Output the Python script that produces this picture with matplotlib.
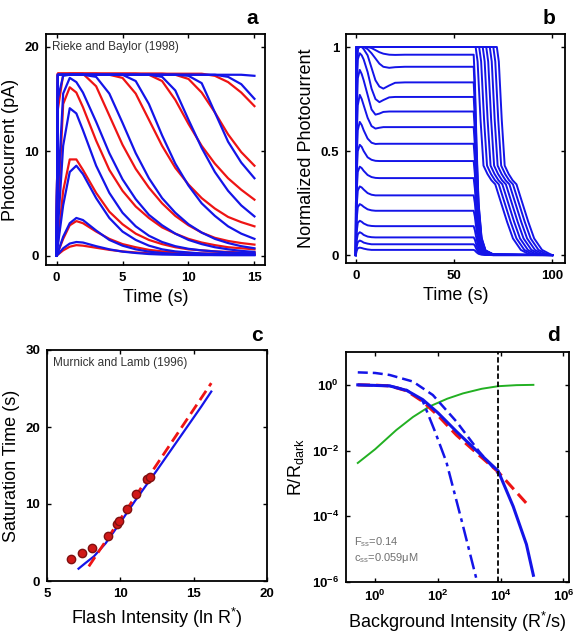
import matplotlib
matplotlib.use("Agg")
import matplotlib.pyplot as plt

plt.rcParams['font.family'] = ['Liberation Sans', 'DejaVu Sans']
plt.rcParams['mathtext.fontset'] = 'custom'
plt.rcParams['mathtext.rm'] = 'Liberation Sans'

BLUE = '#1414e8'
RED = '#ee1414'
GREEN = '#22b022'

# ---- panel a : flash responses (pA) ----
ta = [0, 0.1, 0.5, 1, 1.5, 2, 3, 4, 5, 6, 7, 8, 9, 10, 11, 12, 13, 14, 15]
a_model = [
    [0, 17.3, 17.3, 17.3, 17.3, 17.3, 17.3, 17.3, 17.3, 17.3, 17.3, 17.3, 17.3, 17.3, 17.3, 17.3, 17.3, 17.3, 17.2],
    [0, 17.3, 17.3, 17.3, 17.3, 17.3, 17.3, 17.3, 17.3, 17.3, 17.3, 17.3, 17.3, 17.3, 17.3, 17.3, 17.1, 16.4, 15.0],
    [0, 17.3, 17.3, 17.3, 17.3, 17.3, 17.3, 17.3, 17.3, 17.3, 17.3, 17.3, 17.3, 17.2, 16.5, 13.7, 10.9, 8.9, 7.4],
    [0, 17.3, 17.3, 17.3, 17.3, 17.3, 17.3, 17.3, 17.3, 17.3, 17.3, 17.1, 15.8, 13.0, 10.3, 8.0, 6.2, 4.8, 3.75],
    [0, 17.3, 17.3, 17.3, 17.3, 17.3, 17.3, 17.3, 17.3, 16.7, 14.5, 11.5, 8.8, 6.7, 5.0, 3.8, 2.8, 2.1, 1.6],
    [0, 15.0, 17.2, 17.3, 17.3, 17.3, 17.1, 15.5, 12.7, 9.8, 7.4, 5.5, 4.1, 3.0, 2.2, 1.6, 1.2, 0.9, 0.7],
    [0, 6.0, 15.5, 17.0, 16.6, 15.6, 12.8, 9.8, 7.3, 5.4, 3.9, 2.9, 2.1, 1.5, 1.1, 0.8, 0.6, 0.45, 0.35],
    [0, 2.5, 10.5, 14.1, 13.6, 12.0, 8.6, 6.0, 4.1, 2.8, 1.9, 1.3, 0.9, 0.65, 0.5, 0.4, 0.3, 0.25, 0.2],
    [0, 1.0, 4.8, 8.0, 8.6, 7.8, 5.5, 3.6, 2.3, 1.5, 0.95, 0.6, 0.4, 0.3, 0.2, 0.15, 0.12, 0.1, 0.1],
    [0, 0.3, 1.8, 3.1, 3.6, 3.4, 2.4, 1.5, 0.95, 0.6, 0.38, 0.25, 0.16, 0.1, 0.08, 0.06, 0.05, 0.05, 0.05],
    [0, 0.1, 0.7, 1.15, 1.3, 1.25, 0.9, 0.6, 0.38, 0.25, 0.15, 0.1, 0.08, 0.06, 0.05, 0.05, 0.05, 0.05, 0.05],
]
a_data = [
    [0, 17.4, 17.4, 17.4, 17.4, 17.4, 17.4, 17.4, 17.4, 17.4, 17.4, 17.4, 17.4, 17.4, 17.4, 17.2, 16.6, 15.6, 14.3],
    [0, 17.4, 17.4, 17.4, 17.4, 17.4, 17.4, 17.4, 17.4, 17.4, 17.4, 17.4, 17.3, 16.9, 15.6, 13.7, 11.6, 9.9, 8.6],
    [0, 17.4, 17.4, 17.4, 17.4, 17.4, 17.4, 17.4, 17.4, 17.4, 17.3, 16.7, 14.9, 12.6, 10.5, 8.8, 7.4, 6.3, 5.35],
    [0, 17.4, 17.4, 17.4, 17.4, 17.4, 17.4, 17.3, 17.0, 15.5, 13.0, 10.5, 8.4, 6.8, 5.5, 4.5, 3.7, 3.2, 2.8],
    [0, 14.0, 17.3, 17.4, 17.4, 17.4, 16.2, 13.4, 10.6, 8.3, 6.5, 5.0, 3.8, 2.9, 2.2, 1.7, 1.4, 1.2, 1.05],
    [0, 4.0, 14.5, 16.1, 15.6, 14.2, 11.0, 8.2, 6.2, 4.7, 3.6, 2.7, 2.1, 1.6, 1.25, 1.0, 0.8, 0.7, 0.6],
    [0, 1.2, 6.2, 9.2, 9.2, 8.2, 6.0, 4.2, 3.0, 2.1, 1.5, 1.1, 0.8, 0.6, 0.5, 0.4, 0.35, 0.3, 0.3],
    [0, 0.3, 1.6, 2.9, 3.3, 3.1, 2.3, 1.6, 1.1, 0.8, 0.55, 0.4, 0.3, 0.25, 0.2, 0.2, 0.2, 0.2, 0.2],
    [0, 0.1, 0.5, 0.85, 1.0, 0.95, 0.75, 0.55, 0.4, 0.3, 0.22, 0.18, 0.15, 0.12, 0.1, 0.1, 0.1, 0.1, 0.1],
]

# ---- panel b : step responses (normalized) ----
tb_mid = [0, 0.4, 1, 2, 3, 4, 6, 8, 10, 12, 14, 17, 20, 25, 60, 60.6, 61.5, 62.5, 64, 66, 70, 100]
b_mid = [
    [0, 0.02, 0.033, 0.036, 0.034, 0.031, 0.027, 0.025, 0.025, 0.025, 0.025, 0.025, 0.025, 0.025, 0.025, 0.022, 0.013, 0.006, 0.002, 0.001, 0, 0],
    [0, 0.04, 0.062, 0.07, 0.066, 0.06, 0.055, 0.052, 0.052, 0.052, 0.052, 0.052, 0.052, 0.052, 0.052, 0.046, 0.027, 0.013, 0.005, 0.001, 0, 0],
    [0, 0.07, 0.1, 0.11, 0.105, 0.097, 0.089, 0.086, 0.085, 0.085, 0.085, 0.085, 0.085, 0.085, 0.085, 0.075, 0.045, 0.022, 0.008, 0.002, 0, 0],
    [0, 0.11, 0.155, 0.165, 0.16, 0.152, 0.143, 0.14, 0.139, 0.139, 0.139, 0.139, 0.139, 0.139, 0.139, 0.12, 0.075, 0.036, 0.012, 0.003, 0, 0],
    [0, 0.17, 0.23, 0.245, 0.24, 0.232, 0.22, 0.215, 0.213, 0.213, 0.213, 0.213, 0.213, 0.213, 0.213, 0.185, 0.115, 0.055, 0.018, 0.005, 0.001, 0],
    [0, 0.23, 0.31, 0.33, 0.325, 0.315, 0.298, 0.29, 0.287, 0.287, 0.287, 0.287, 0.287, 0.287, 0.287, 0.25, 0.155, 0.075, 0.025, 0.007, 0.001, 0],
    [0, 0.3, 0.4, 0.425, 0.418, 0.405, 0.385, 0.375, 0.371, 0.37, 0.37, 0.37, 0.37, 0.37, 0.37, 0.32, 0.2, 0.1, 0.033, 0.009, 0.001, 0],
    [0, 0.38, 0.5, 0.53, 0.52, 0.5, 0.47, 0.458, 0.453, 0.452, 0.452, 0.452, 0.452, 0.452, 0.452, 0.39, 0.245, 0.12, 0.04, 0.011, 0.002, 0],
    [0, 0.45, 0.6, 0.64, 0.625, 0.6, 0.56, 0.54, 0.534, 0.535, 0.535, 0.535, 0.535, 0.535, 0.535, 0.46, 0.29, 0.14, 0.047, 0.013, 0.002, 0],
    [0, 0.55, 0.72, 0.77, 0.75, 0.72, 0.66, 0.62, 0.608, 0.612, 0.615, 0.615, 0.615, 0.615, 0.615, 0.53, 0.33, 0.16, 0.054, 0.015, 0.002, 0],
    [0, 0.65, 0.85, 0.89, 0.87, 0.84, 0.77, 0.7, 0.675, 0.68, 0.688, 0.69, 0.69, 0.69, 0.69, 0.6, 0.37, 0.18, 0.06, 0.017, 0.002, 0],
    [0, 0.75, 0.94, 0.97, 0.96, 0.94, 0.88, 0.8, 0.75, 0.735, 0.745, 0.758, 0.76, 0.76, 0.76, 0.66, 0.41, 0.2, 0.067, 0.019, 0.003, 0],
    [0, 0.85, 0.99, 1.0, 1.0, 0.99, 0.96, 0.9, 0.84, 0.81, 0.8, 0.815, 0.828, 0.83, 0.83, 0.72, 0.45, 0.22, 0.073, 0.02, 0.003, 0],
    [0, 0.9, 1.0, 1.0, 1.0, 1.0, 0.99, 0.97, 0.945, 0.92, 0.905, 0.9, 0.903, 0.905, 0.905, 0.79, 0.49, 0.24, 0.08, 0.022, 0.003, 0],
    [0, 0.95, 1.0, 1.0, 1.0, 1.0, 1.0, 0.995, 0.985, 0.975, 0.968, 0.963, 0.962, 0.963, 0.963, 0.84, 0.52, 0.25, 0.085, 0.023, 0.003, 0],
]
b_bright_t = [
    [0, 0.3, 61.0, 62.0, 63.5, 65.0, 67.0, 69.0, 71.0, 74.0, 77.0, 80.0, 84.0, 88.0, 100],
    [0, 0.3, 62.8, 63.8, 65.3, 66.8, 68.8, 70.8, 72.8, 75.8, 78.8, 81.8, 85.8, 89.8, 100],
    [0, 0.3, 64.6, 65.6, 67.1, 68.6, 70.6, 72.6, 74.6, 77.6, 80.6, 83.6, 87.6, 91.6, 100],
    [0, 0.3, 66.4, 67.4, 68.9, 70.4, 72.4, 74.4, 76.4, 79.4, 82.4, 85.4, 89.4, 93.4, 100],
    [0, 0.3, 68.2, 69.2, 70.7, 72.2, 74.2, 76.2, 78.2, 81.2, 84.2, 87.2, 91.2, 95.2, 100],
    [0, 0.3, 70.0, 71.0, 72.5, 74.0, 76.0, 78.0, 80.0, 83.0, 86.0, 89.0, 93.0, 97.0, 100],
    [0, 0.3, 71.8, 72.8, 74.3, 75.8, 77.8, 79.8, 81.8, 84.8, 87.8, 90.8, 94.8, 98.8, 100],
]
b_bright_y = [0, 1.0, 1.0, 0.93, 0.65, 0.43, 0.39, 0.36, 0.34, 0.25, 0.16, 0.08, 0.025, 0.005, 0.0]

# ---- panel c : saturation time ----
c_dots_x = [6.66, 7.39, 8.07, 9.16, 9.77, 9.93, 10.45, 11.09, 11.82, 12.0]
c_dots_y = [2.8, 3.6, 4.3, 5.9, 7.4, 7.8, 9.35, 11.25, 13.3, 13.5]
c_model_x = [7.15, 7.6, 8.2, 9.0, 10.0, 11.0, 12.5, 14.0, 15.5, 16.2]
c_model_y = [1.6, 2.3, 3.2, 4.9, 7.6, 10.4, 14.4, 18.5, 22.6, 24.6]
c_fit_x = [7.85, 8.5, 9.5, 11.0, 13.0, 16.2]
c_fit_y = [1.9, 3.75, 6.6, 10.9, 16.6, 25.7]

# ---- panel d : steady state vs background ----
d_green_x = [0.28, 1.0, 4.7, 16, 54, 200, 630, 2500, 8300, 32000, 110000]
d_green_y = [0.0042, 0.011, 0.042, 0.105, 0.22, 0.38, 0.55, 0.76, 0.91, 0.98, 1.0]
d_red_x = [0.28, 1.0, 2.9, 10, 33, 100, 390, 1600, 8300, 85000]
d_red_y = [1.0, 0.98, 0.93, 0.66, 0.31, 0.117, 0.0295, 0.0089, 0.00224, 0.00019]
d_blue_x = [0.28, 2.9, 10, 33, 100, 390, 1600, 8300, 25000, 66000, 110000]
d_blue_y = [1.0, 0.93, 0.68, 0.355, 0.141, 0.038, 0.0105, 0.0024, 0.0002, 1.4e-5, 1.6e-6]
d_bdash_x = [0.28, 1.0, 2.9, 16, 69, 390, 2100, 8300]
d_bdash_y = [2.4, 2.3, 2.0, 1.26, 0.49, 0.076, 0.0091, 0.002]
d_dashdot_x = [0.28, 2.9, 10, 33, 79, 186, 560, 1700, 1900]
d_dashdot_y = [1.0, 0.93, 0.7, 0.32, 0.04, 0.0045, 7.9e-5, 1.2e-6, 7.9e-7]
d_vline = 8300


def style_axes(ax):
    for s in ax.spines.values():
        s.set_linewidth(1.3)
    ax.tick_params(direction='in', top=True, right=True, length=3, width=1,
                   labelsize=9.5, pad=5)
    for lab in ax.get_xticklabels() + ax.get_yticklabels():
        lab.set_fontweight('bold')


fig = plt.figure(figsize=(5.82, 6.41), dpi=100)
W, H = 582.0, 641.0

# a
ax = fig.add_axes([46 / W, 1 - 265 / H, 219 / W, 231 / H])
for y in a_data:
    ax.plot(ta, y, color=RED, lw=1.6)
for y in a_model:
    ax.plot(ta, y, color=BLUE, lw=1.6)
ax.set_xlim(-0.8, 15.8)
ax.set_ylim(-0.9, 21.2)
ax.set_xticks([0, 5, 10, 15])
ax.set_yticks([0, 10, 20])
ax.text(0.027, 0.944, 'Rieke and Baylor (1998)', transform=ax.transAxes,
        fontsize=8.5, va='center', ha='left', color='#333333')
ax.set_xlabel('Time (s)', fontsize=13)
ax.set_ylabel('Photocurrent (pA)', fontsize=13)
style_axes(ax)

# b
ax = fig.add_axes([346 / W, 1 - 263 / H, 219 / W, 229 / H])
for y in b_mid:
    ax.plot(tb_mid, y, color=BLUE, lw=1.4)
for t in b_bright_t:
    ax.plot(t, b_bright_y, color=BLUE, lw=1.4)
ax.set_xlim(-5, 106.5)
ax.set_ylim(-0.038, 1.0625)
ax.set_xticks([0, 50, 100])
ax.set_yticks([0, 0.5, 1])
ax.set_yticklabels(['0', '0.5', '1'])
ax.set_xlabel('Time (s)', fontsize=13)
ax.set_ylabel('Normalized Photocurrent', fontsize=13)
style_axes(ax)

# c
ax = fig.add_axes([47 / W, 1 - 581 / H, 220 / W, 231 / H])
ax.plot(c_model_x, c_model_y, color=BLUE, lw=1.6)
ax.plot(c_fit_x, c_fit_y, color=RED, lw=2, ls=(0, (4, 2)))
ax.plot(c_dots_x, c_dots_y, 'o', color='#d01818', mec='#801010', ms=6)
ax.set_xlim(5, 20)
ax.set_ylim(0, 30)
ax.set_xticks([5, 10, 15, 20])
ax.set_yticks([0, 10, 20, 30])
ax.text(0.027, 0.944, 'Murnick and Lamb (1996)', transform=ax.transAxes,
        fontsize=8.5, va='center', ha='left', color='#333333')
ax.set_xlabel('Flash Intensity (ln R$^{\\mathregular{*}}$)', fontsize=13)
ax.set_ylabel('Saturation Time (s)', fontsize=13)
style_axes(ax)

# d
ax = fig.add_axes([346 / W, 1 - 582 / H, 223 / W, 230 / H])
ax.set_xscale('log')
ax.set_yscale('log')
ax.plot(d_green_x, d_green_y, color=GREEN, lw=1.4)
ax.plot(d_dashdot_x, d_dashdot_y, color=BLUE, lw=1.8, ls=(0, (6, 2, 1.5, 2)))
ax.plot(d_bdash_x, d_bdash_y, color=BLUE, lw=1.8, ls=(0, (4, 2)))
ax.plot(d_red_x, d_red_y, color=RED, lw=2.2, ls=(0, (4, 2)))
ax.plot(d_blue_x, d_blue_y, color=BLUE, lw=2.2)
ax.axvline(d_vline, color='black', lw=1.3, ls=(0, (3, 1.5)))
ax.set_xlim(0.118, 1.5e6)
ax.set_ylim(1e-6, 10)
ax.set_xticks([1, 1e2, 1e4, 1e6])
ax.set_yticks([1e-6, 1e-4, 1e-2, 1])
ax.minorticks_off()
ax.text(0.036, 0.174, 'F$_{\\mathregular{ss}}$=0.14', transform=ax.transAxes,
        fontsize=8, color='#707070', va='center')
ax.text(0.036, 0.104, 'c$_{\\mathregular{ss}}$=0.059\u03bcM', transform=ax.transAxes,
        fontsize=8, color='#707070', va='center')
ax.set_xlabel('Background Intensity (R$^{\\mathregular{*}}$/s)', fontsize=13)
ax.set_ylabel('R/R$_{\\mathregular{dark}}$', fontsize=13)
style_axes(ax)

for lbl, x, y in [('a', 252, 18), ('b', 549, 18), ('c', 257, 335), ('d', 554, 335)]:
    fig.text(x / W, 1 - y / H, lbl, fontsize=15, fontweight='bold', ha='center', va='center')

fig.savefig('out.png', dpi=100)
